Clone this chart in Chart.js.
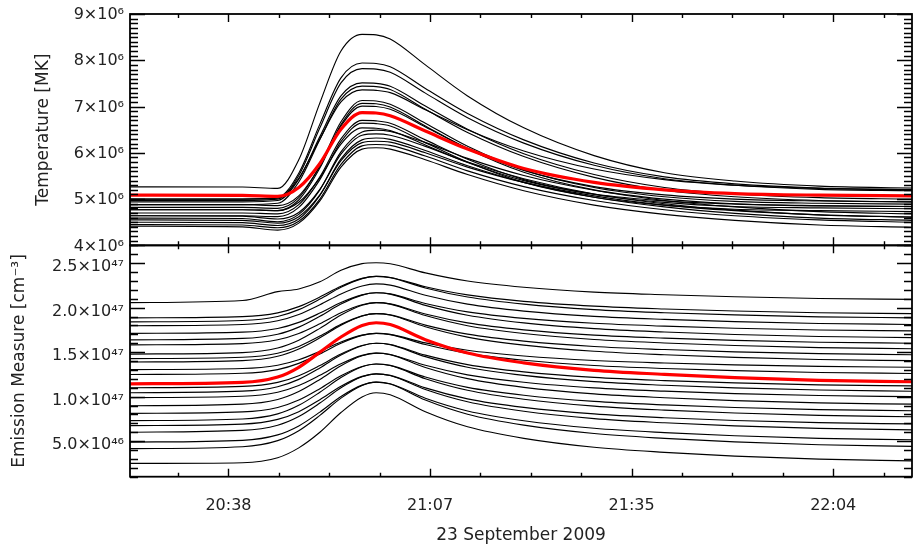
<!DOCTYPE html>
<html><head><meta charset="utf-8">
<script src="https://cdn.jsdelivr.net/npm/chart.js@4.4.0/dist/chart.umd.min.js"></script>
<style>html,body{margin:0;padding:0;background:#fff;}canvas{display:block;}</style>
</head><body>
<canvas id="c" width="914" height="546"></canvas>
<script>
// time in minutes after 20:00 UT, 23 September 2009
const times = [24, 40, 45, 48, 51, 54, 57, 59, 61, 66, 72, 80, 90, 100, 110, 122, 135.2];
const xTickValues = [38, 66.667, 95.333, 124];
const xTickLabels = ['20:38', '21:07', '21:35', '22:04'];
const tempTickValues = [4, 5, 6, 7, 8, 9];
const tempTickLabels = ['4×10⁶', '5×10⁶', '6×10⁶', '7×10⁶', '8×10⁶', '9×10⁶'];
const emTickValues = [0.5, 1.0, 1.5, 2.0, 2.5];
const emTickLabels = ['5.0×10⁴⁶', '1.0×10⁴⁷', '1.5×10⁴⁷', '2.0×10⁴⁷', '2.5×10⁴⁷'];

// Temperature (units of 10^6 K)
const tempMean = [5.085, 5.08, 5.06, 5.25, 5.77, 6.51, 6.87, 6.86, 6.80, 6.47, 6.08, 5.66, 5.36, 5.20, 5.12, 5.085, 5.07];
const temp01 = [5.265, 5.26, 5.23, 5.85, 7.08, 8.20, 8.56, 8.55, 8.46, 7.90, 7.23, 6.54, 5.94, 5.57, 5.39, 5.28, 5.24];
const temp02 = [5.00, 5.00, 5.03, 5.56, 6.62, 7.62, 7.94, 7.93, 7.86, 7.39, 6.85, 6.28, 5.78, 5.48, 5.33, 5.24, 5.21];
const temp03 = [4.97, 4.97, 5.00, 5.51, 6.54, 7.51, 7.82, 7.81, 7.74, 7.29, 6.76, 6.21, 5.73, 5.44, 5.30, 5.21, 5.18];
const temp04 = [4.94, 4.94, 4.97, 5.43, 6.35, 7.23, 7.51, 7.50, 7.44, 7.01, 6.51, 5.98, 5.53, 5.25, 5.11, 5.03, 5.00];
const temp05 = [4.88, 4.88, 4.91, 5.37, 6.29, 7.16, 7.44, 7.43, 7.37, 6.94, 6.44, 5.92, 5.47, 5.19, 5.05, 4.97, 4.94];
const temp06 = [5.00, 5.00, 5.02, 5.45, 6.30, 7.10, 7.36, 7.35, 7.30, 6.93, 6.50, 6.04, 5.65, 5.42, 5.30, 5.23, 5.20];
const temp07 = [4.82, 4.82, 4.80, 5.03, 5.72, 6.67, 7.13, 7.12, 7.05, 6.64, 6.14, 5.63, 5.25, 5.05, 4.95, 4.91, 4.89];
const temp08 = [4.77, 4.77, 4.75, 4.98, 5.67, 6.61, 7.07, 7.06, 6.99, 6.58, 6.09, 5.58, 5.20, 5.00, 4.90, 4.86, 4.84];
const temp09 = [4.88, 4.88, 4.86, 5.07, 5.71, 6.58, 7.01, 7.00, 6.94, 6.56, 6.10, 5.62, 5.27, 5.09, 5.00, 4.96, 4.94];
const temp10 = [4.70, 4.70, 4.68, 4.88, 5.48, 6.30, 6.70, 6.69, 6.64, 6.28, 5.86, 5.42, 5.10, 4.93, 4.84, 4.81, 4.79];
const temp11 = [4.64, 4.64, 4.62, 4.82, 5.42, 6.24, 6.64, 6.63, 6.58, 6.22, 5.80, 5.36, 5.04, 4.87, 4.78, 4.75, 4.73];
const temp12 = [4.77, 4.77, 4.75, 4.93, 5.46, 6.19, 6.54, 6.53, 6.48, 6.17, 5.79, 5.40, 5.11, 4.96, 4.89, 4.85, 4.84];
const temp13 = [4.59, 4.58, 4.51, 4.67, 5.20, 6.02, 6.45, 6.49, 6.46, 6.22, 5.88, 5.51, 5.19, 4.97, 4.83, 4.73, 4.68];
const temp14 = [4.64, 4.63, 4.57, 4.71, 5.21, 5.97, 6.38, 6.41, 6.38, 6.14, 5.80, 5.44, 5.11, 4.90, 4.76, 4.66, 4.61];
const temp15 = [4.50, 4.49, 4.43, 4.57, 5.08, 5.87, 6.28, 6.32, 6.29, 6.05, 5.72, 5.36, 5.04, 4.83, 4.69, 4.59, 4.54];
const temp16 = [4.55, 4.54, 4.48, 4.62, 5.09, 5.83, 6.22, 6.25, 6.23, 6.00, 5.69, 5.36, 5.07, 4.87, 4.75, 4.66, 4.61];
const temp17 = [4.45, 4.44, 4.38, 4.52, 5.00, 5.75, 6.15, 6.18, 6.16, 5.93, 5.61, 5.27, 4.97, 4.77, 4.64, 4.55, 4.50];
const temp18 = [4.415, 4.40, 4.33, 4.48, 4.96, 5.69, 6.08, 6.11, 6.08, 5.85, 5.53, 5.18, 4.87, 4.67, 4.54, 4.44, 4.39];

// Emission measure (units of 10^47 cm^-3)
const emMean = [1.144, 1.16, 1.22, 1.33, 1.50, 1.67, 1.80, 1.83, 1.81, 1.64, 1.49, 1.38, 1.295, 1.25, 1.213, 1.183, 1.167];
const em01 = [2.056, 2.08, 2.18, 2.21, 2.29, 2.42, 2.495, 2.505, 2.493, 2.390, 2.299, 2.229, 2.175, 2.145, 2.122, 2.103, 2.093];
const em02 = [1.885, 1.899, 1.941, 2.011, 2.119, 2.240, 2.329, 2.352, 2.339, 2.235, 2.143, 2.071, 2.017, 1.985, 1.962, 1.943, 1.933];
const em03 = [1.840, 1.855, 1.901, 1.978, 2.096, 2.229, 2.326, 2.352, 2.338, 2.221, 2.119, 2.039, 1.978, 1.943, 1.918, 1.897, 1.885];
const em04 = [1.796, 1.810, 1.853, 1.923, 2.032, 2.154, 2.243, 2.267, 2.253, 2.139, 2.039, 1.961, 1.902, 1.868, 1.843, 1.822, 1.811];
const em05 = [1.711, 1.725, 1.766, 1.834, 1.939, 2.058, 2.144, 2.167, 2.154, 2.047, 1.953, 1.880, 1.824, 1.792, 1.768, 1.749, 1.738];
const em06 = [1.638, 1.654, 1.701, 1.781, 1.903, 2.040, 2.141, 2.167, 2.152, 2.026, 1.915, 1.829, 1.764, 1.726, 1.698, 1.676, 1.663];
const em07 = [1.582, 1.596, 1.639, 1.710, 1.819, 1.942, 2.032, 2.056, 2.042, 1.928, 1.828, 1.750, 1.691, 1.657, 1.632, 1.611, 1.600];
const em08 = [1.478, 1.495, 1.547, 1.634, 1.767, 1.917, 2.027, 2.056, 2.040, 1.911, 1.797, 1.709, 1.642, 1.603, 1.574, 1.551, 1.538];
const em09 = [1.427, 1.442, 1.488, 1.564, 1.680, 1.812, 1.908, 1.933, 1.919, 1.804, 1.702, 1.623, 1.563, 1.529, 1.503, 1.483, 1.471];
const em10 = [1.389, 1.405, 1.454, 1.536, 1.661, 1.802, 1.906, 1.933, 1.917, 1.785, 1.669, 1.579, 1.510, 1.470, 1.441, 1.417, 1.404];
const em11 = [1.304, 1.316, 1.353, 1.414, 1.508, 1.613, 1.691, 1.711, 1.700, 1.604, 1.521, 1.456, 1.406, 1.378, 1.357, 1.340, 1.330];
const em12 = [1.249, 1.263, 1.304, 1.374, 1.480, 1.600, 1.688, 1.711, 1.697, 1.585, 1.486, 1.409, 1.350, 1.316, 1.292, 1.271, 1.260];
const em13 = [1.100, 1.115, 1.160, 1.235, 1.350, 1.480, 1.575, 1.600, 1.586, 1.466, 1.360, 1.278, 1.216, 1.180, 1.154, 1.132, 1.120];
const em14 = [1.044, 1.061, 1.111, 1.194, 1.322, 1.467, 1.572, 1.600, 1.584, 1.449, 1.330, 1.238, 1.168, 1.128, 1.098, 1.074, 1.060];
const em15 = [0.989, 1.004, 1.049, 1.124, 1.239, 1.369, 1.464, 1.489, 1.474, 1.352, 1.245, 1.161, 1.098, 1.061, 1.034, 1.012, 1.000];
const em16 = [0.897, 0.915, 0.968, 1.057, 1.193, 1.347, 1.459, 1.489, 1.472, 1.328, 1.202, 1.104, 1.030, 0.987, 0.955, 0.929, 0.915];
const em17 = [0.811, 0.828, 0.878, 0.961, 1.089, 1.234, 1.339, 1.367, 1.351, 1.220, 1.104, 1.015, 0.946, 0.907, 0.878, 0.854, 0.841];
const em18 = [0.730, 0.749, 0.806, 0.902, 1.049, 1.214, 1.335, 1.367, 1.349, 1.201, 1.071, 0.970, 0.893, 0.848, 0.816, 0.789, 0.774];
const em19 = [0.674, 0.691, 0.744, 0.831, 0.965, 1.116, 1.227, 1.256, 1.239, 1.098, 0.975, 0.879, 0.806, 0.763, 0.732, 0.707, 0.693];
const em20 = [0.600, 0.620, 0.679, 0.777, 0.928, 1.099, 1.223, 1.256, 1.237, 1.080, 0.942, 0.835, 0.753, 0.706, 0.671, 0.643, 0.627];
const em21 = [0.489, 0.509, 0.570, 0.671, 0.826, 1.001, 1.129, 1.163, 1.144, 0.982, 0.839, 0.729, 0.645, 0.596, 0.560, 0.531, 0.515];
const em22 = [0.415, 0.437, 0.505, 0.617, 0.789, 0.983, 1.126, 1.163, 1.141, 0.961, 0.802, 0.679, 0.585, 0.531, 0.492, 0.459, 0.441];
const em23 = [0.249, 0.257, 0.313, 0.424, 0.599, 0.821, 0.996, 1.044, 1.021, 0.830, 0.661, 0.531, 0.431, 0.374, 0.332, 0.297, 0.278];

const tempCurves = [temp01, temp02, temp03, temp04, temp05, temp06, temp07, temp08, temp09,
  temp10, temp11, temp12, temp13, temp14, temp15, temp16, temp17, temp18];
const emCurves = [em01, em02, em03, em04, em05, em06, em07, em08, em09, em10, em11, em12,
  em13, em14, em15, em16, em17, em18, em19, em20, em21, em22, em23];

const toPts = arr => arr.map((v, i) => ({x: times[i], y: v}));
const lineDs = (arr, axis, color, w) => ({
  data: toPts(arr), yAxisID: axis, borderColor: color, borderWidth: w,
  pointRadius: 0, fill: false, cubicInterpolationMode: 'monotone'
});

const datasets = [
  lineDs(tempMean, 'yT', '#ff0000', 3.2),
  lineDs(emMean, 'yE', '#ff0000', 3.2),
  ...tempCurves.map(a => lineDs(a, 'yT', '#000000', 1.15)),
  ...emCurves.map(a => lineDs(a, 'yE', '#000000', 1.15))
];

const FONT = 'DejaVu Sans';
const TXT = '#222222';

// IDL-style inward ticks and box frames
const idlAxes = {
  id: 'idlAxes',
  afterDatasetsDraw(chart) {
    const ctx = chart.ctx;
    const xs = chart.scales.x;
    const L = chart.chartArea.left, R = chart.chartArea.right;
    const xStep = xTickValues[1] - xTickValues[0];
    const xMinor = xStep / 4;
    ctx.save();
    ctx.strokeStyle = '#000';
    ctx.lineCap = 'butt';
    const panels = [
      {s: chart.scales.yT, major: tempTickValues, minorStep: 0.1},
      {s: chart.scales.yE, major: emTickValues, minorStep: 0.1}
    ];
    for (const p of panels) {
      const ys = p.s;
      const top = ys.top, bot = ys.bottom;
      ctx.lineWidth = 1.4;
      ctx.beginPath();
      const k0 = Math.ceil((xs.min - xTickValues[0]) / xMinor - 1e-6);
      for (let k = k0; ; k++) {
        const v = xTickValues[0] + k * xMinor;
        if (v > xs.max) break;
        const px = Math.round(xs.getPixelForValue(v)) + 0.5;
        const len = (k % 4 === 0) ? 8 : 4;
        ctx.moveTo(px, top); ctx.lineTo(px, top + len);
        ctx.moveTo(px, bot); ctx.lineTo(px, bot - len);
      }
      const n0 = Math.ceil(ys.min / p.minorStep - 1e-6), n1 = Math.floor(ys.max / p.minorStep + 1e-6);
      for (let n = n0; n <= n1; n++) {
        const v = n * p.minorStep;
        const isMajor = p.major.some(m => Math.abs(m - v) < 1e-6);
        const py = Math.round(ys.getPixelForValue(v)) + 0.5;
        const len = isMajor ? 15 : 8;
        ctx.moveTo(L, py); ctx.lineTo(L + len, py);
        ctx.moveTo(R, py); ctx.lineTo(R - len, py);
      }
      ctx.stroke();
      ctx.lineWidth = 1.8;
      ctx.strokeRect(L, top, R - L, bot - top);
    }
    ctx.restore();
  }
};

const yTickFont = {family: FONT, size: 16, lineHeight: 1};
new Chart(document.getElementById('c'), {
  type: 'line',
  data: {datasets},
  plugins: [idlAxes],
  options: {
    responsive: false,
    animation: false,
    events: [],
    layout: {padding: {top: 9.3, right: 2, left: 0, bottom: 0}},
    plugins: {legend: {display: false}, tooltip: {enabled: false}},
    scales: {
      x: {
        type: 'linear', position: 'bottom', min: 24, max: 135.2,
        afterBuildTicks: s => { s.ticks = xTickValues.map(v => ({value: v})); },
        afterFit: s => { s.height = 69.3; },
        grid: {display: false, drawTicks: false, tickLength: 0},
        border: {display: false},
        ticks: {autoSkip: false, maxRotation: 0, minRotation: 0, padding: 21, color: TXT,
          font: {family: FONT, size: 16, lineHeight: 1},
          callback: (v, i) => xTickLabels[i]},
        title: {display: true, text: '23 September 2009', color: TXT,
          font: {family: FONT, size: 17}, padding: {top: 0, bottom: 0}}
      },
      yT: {
        type: 'linear', position: 'left', stack: 'panels', stackWeight: 1, weight: 2,
        min: 4, max: 9,
        afterBuildTicks: s => { s.ticks = tempTickValues.map(v => ({value: v})); },
        afterFit: s => { s.width = 130; },
        grid: {display: false, drawTicks: false, tickLength: 0},
        border: {display: false},
        ticks: {autoSkip: false, padding: 6, labelOffset: 1, color: TXT, font: yTickFont,
          callback: (v, i) => tempTickLabels[i]},
        title: {display: true, text: 'Temperature [MK]', color: TXT,
          font: {family: FONT, size: 17}, padding: {top: 33, bottom: 0}}
      },
      yE: {
        type: 'linear', position: 'left', stack: 'panels', stackWeight: 1, weight: 1,
        min: 0.1, max: 2.7,
        afterBuildTicks: s => { s.ticks = emTickValues.map(v => ({value: v})); },
        afterFit: s => { s.width = 130; },
        grid: {display: false, drawTicks: false, tickLength: 0},
        border: {display: false},
        ticks: {autoSkip: false, padding: 6, labelOffset: 4, color: TXT, font: yTickFont,
          callback: (v, i) => emTickLabels[i]},
        title: {display: true, text: 'Emission Measure [cm⁻³]', color: TXT,
          font: {family: FONT, size: 17}, padding: {top: 9, bottom: 0}}
      }
    }
  }
});
</script>
</body></html>
